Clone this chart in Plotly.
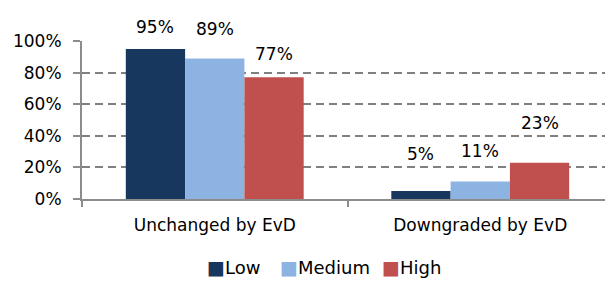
import plotly.graph_objects as go

categories = ["Unchanged by EvD", "Downgraded by EvD"]
low = [95, 5]
medium = [89, 11]
high = [77, 23]
series_names = ["Low", "Medium", "High"]
colors = ["#17375E", "#8DB3E2", "#C0504D"]
label_shift = [[22, 37], [29, 31], [23, 40]]  # pixel offset of labels above bar tops
y_ticks = [0, 20, 40, 60, 80, 100]
legend_x = [0.2335, 0.3710, 0.5631]

FONT = "DejaVu Sans, Verdana, sans-serif"

fig = go.Figure()
series = [low, medium, high]
for name, vals, col in zip(series_names, series, colors):
    fig.add_trace(go.Bar(name=name, x=categories, y=vals,
                         marker=dict(color=col, line=dict(width=0)), showlegend=False))

offsets = [-1, 0, 1]
for si, (vals, shifts) in enumerate(zip(series, label_shift)):
    for ci, (v, s) in enumerate(zip(vals, shifts)):
        fig.add_annotation(x=ci + offsets[si] * 0.2233, y=v, xref="x", yref="y",
                           text=f"{v}%", showarrow=False, yshift=s, yanchor="middle",
                           font=dict(family=FONT, size=17, color="#000000"))

# legend drawn as annotations (square swatch + label)
for name, col, lx in zip(series_names, colors, legend_x):
    fig.add_annotation(x=lx, y=-0.43, xref="paper", yref="paper", xanchor="left",
                       yanchor="middle", showarrow=False, borderpad=0,
                       text=f'<span style="color:{col};font-size:19px">■</span>{name}',
                       font=dict(family=FONT, size=18, color="#000000"))

# the page body adds an 8px margin, so the figure is sized to fit the 613x282 window
fig.update_layout(
    width=605, height=274,
    margin=dict(l=74, r=0, t=33, b=83, autoexpand=False),
    paper_bgcolor="white", plot_bgcolor="white",
    barmode="group", bargap=0.33, bargroupgap=0,
    font=dict(family=FONT, size=16, color="#000000"),
    showlegend=False,
)
fig.update_xaxes(
    type="category", range=[-0.5, 1.5], tickson="boundaries", ticks="outside",
    ticklen=6, tickcolor="#8C8C8C", tickwidth=2, automargin=False,
    ticklabelstandoff=10,
    showline=True, linecolor="#8C8C8C", linewidth=2, showgrid=False,
    tickfont=dict(family=FONT, size=17),
)
fig.update_yaxes(
    range=[0, 100], tickvals=y_ticks, ticktext=[f"{t}%" for t in y_ticks],
    ticks="outside", ticklen=7, tickcolor="#8C8C8C", tickwidth=2, automargin=False,
    ticklabelstandoff=8,
    showline=True, linecolor="#8C8C8C", linewidth=2,
    showgrid=True, gridcolor="#808080", gridwidth=2, griddash="8px,5px",
    zeroline=False, tickfont=dict(family=FONT, size=17),
)

fig.write_html("out.html")
